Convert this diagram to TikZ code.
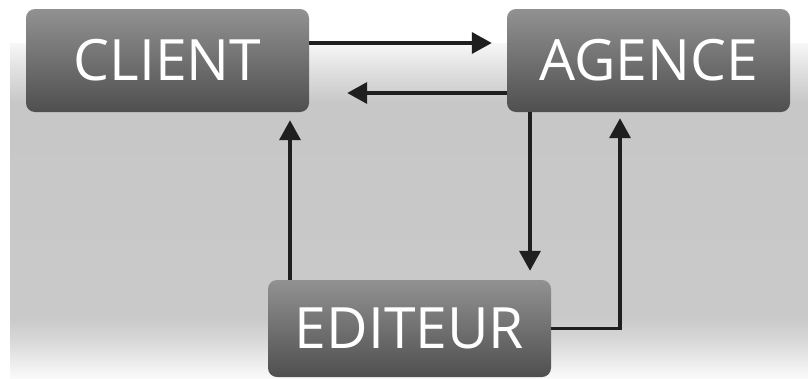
\documentclass[tikz,border=0pt]{standalone}
\usepackage{fontspec}
\setmainfont{Open Sans}
\usetikzlibrary{arrows.meta}
\pgfdeclareverticalshading{bgshade}{100bp}{color(0bp)=(white); color(25bp)=(white!98!black); color(31bp)=(white!84!black); color(34bp)=(white!79!black); color(66bp)=(white!78!black); color(72bp)=(white!90!black); color(75bp)=(white!97!black); color(100bp)=(white!97!black)}
\tikzset{
  box/.style={rounded corners=9pt, top color=black!43, bottom color=black!69,
    minimum width=283pt, minimum height=103pt, inner sep=0pt,
    text=white, font=\fontsize{57}{60}\selectfont},
  arr/.style={line width=3.6pt, draw=black!88, line join=miter,
    -{Triangle[width=21pt,length=20pt]}}
}
\begin{document}
\begin{tikzpicture}[x=1pt,y=-1pt]
\useasboundingbox (0,0) rectangle (808,378);
\fill[white] (0,0) rectangle (808,378);
\shade[shading=bgshade] (10,43) rectangle (808,378);
\node[box] (client) at (167.5,60.5) {CLIENT};
\node[box] (agence) at (648.5,60.5) {AGENCE};
\node[box, minimum height=97pt] (editeur) at (409.5,328.5) {EDITEUR};
\draw[arr] ([yshift=17.5pt]client.east) -- ([xshift=-15pt,yshift=17.5pt]agence.west);
\draw[arr] ([yshift=-32.5pt]agence.west) -- ([xshift=38pt,yshift=-32.5pt]client.east);
\draw[arr] ([xshift=-119.5pt]editeur.north) -- ([xshift=122.5pt,yshift=-8pt]client.south);
\draw[arr] ([xshift=-118.5pt]agence.south) -- ([xshift=120.5pt,yshift=9pt]editeur.north);
\draw[arr] (editeur.east) -| ([xshift=-28.5pt,yshift=-6pt]agence.south);
\end{tikzpicture}
\end{document}
